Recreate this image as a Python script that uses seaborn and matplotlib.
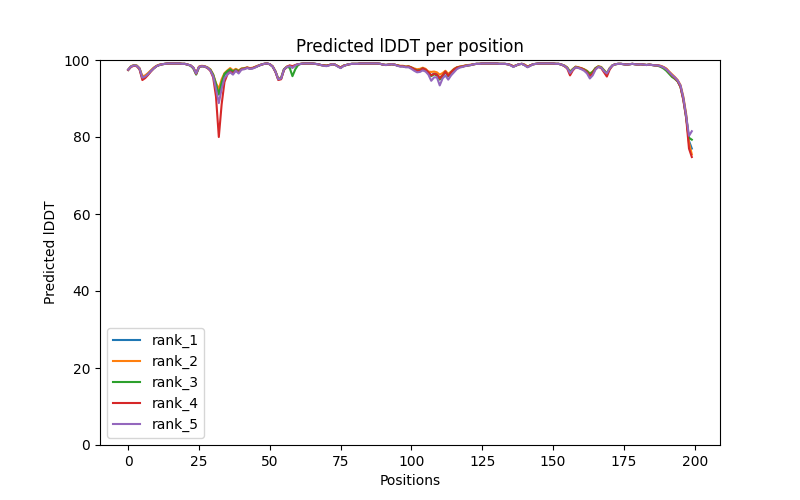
import matplotlib
matplotlib.use("Agg")
import matplotlib.pyplot as plt
import seaborn as sns
import pandas as pd
import numpy as np

positions = list(range(200))

rank_1 = [
    97.5, 98.3, 98.6, 98.5, 97.8, 95.5, 95.8, 96.4, 97.2, 97.9,
    98.4, 98.7, 98.9, 99.0, 99.1, 99.1, 99.1, 99.1, 99.1, 99.0,
    99.0, 98.8, 98.6, 98.0, 96.5, 98.2, 98.4, 98.3, 98.0, 97.4,
    96.0, 93.5, 91.5, 94.0, 96.2, 97.0, 97.5, 96.8, 97.5, 97.0,
    97.7, 97.8, 98.0, 97.8, 97.9, 98.2, 98.5, 98.8, 99.0, 99.1,
    98.9, 98.3, 97.0, 95.0, 95.2, 97.5, 98.2, 98.5, 98.0, 98.6,
    98.9, 99.0, 99.1, 99.1, 99.1, 99.1, 99.0, 98.9, 98.7, 98.6,
    98.5, 98.7, 98.9, 98.8, 98.4, 98.0, 98.5, 98.7, 98.9, 99.0,
    99.0, 99.0, 99.1, 99.1, 99.1, 99.1, 99.1, 99.1, 99.1, 99.0,
    98.8, 98.7, 98.8, 98.9, 98.8, 98.6, 98.4, 98.4, 98.2, 98.3,
    98.0, 97.6, 97.2, 97.3, 97.8, 97.5, 96.8, 96.0, 96.5, 96.3,
    95.3, 96.0, 97.0, 95.8, 96.8, 97.5, 98.0, 98.2, 98.3, 98.5,
    98.6, 98.7, 98.9, 99.0, 99.0, 99.1, 99.1, 99.1, 99.1, 99.1,
    99.1, 99.0, 99.0, 99.0, 98.9, 98.7, 98.3, 98.6, 98.9, 99.0,
    98.7, 98.2, 98.6, 98.9, 99.0, 99.1, 99.1, 99.1, 99.1, 99.1,
    99.1, 99.0, 99.0, 98.8, 98.5, 98.0, 96.8, 97.6, 98.2, 98.0,
    97.8, 97.5, 97.0, 96.2, 96.8, 97.8, 98.3, 98.1, 97.2, 96.3,
    97.8, 98.6, 98.9, 99.0, 99.0, 98.9, 98.8, 98.9, 99.0, 98.9,
    98.8, 98.9, 98.8, 98.7, 98.8, 98.7, 98.6, 98.6, 98.4, 98.1,
    97.6, 96.8, 96.0, 95.4, 94.6, 93.2, 90.0, 85.5, 79.0, 77.0,
]

rank_2 = [
    97.5, 98.4, 98.7, 98.6, 97.9, 95.8, 96.0, 96.6, 97.3, 98.0,
    98.5, 98.8, 98.9, 99.0, 99.1, 99.1, 99.1, 99.1, 99.1, 99.0,
    99.0, 98.8, 98.6, 98.0, 96.6, 98.3, 98.5, 98.4, 98.1, 97.6,
    96.3, 94.0, 92.5, 95.0, 96.6, 97.3, 97.9, 97.3, 97.7, 97.3,
    97.8, 97.9, 98.1, 97.9, 98.0, 98.3, 98.6, 98.8, 99.0, 99.1,
    98.9, 98.4, 97.1, 95.1, 95.4, 97.6, 98.3, 98.5, 98.1, 98.6,
    98.9, 99.0, 99.1, 99.1, 99.1, 99.1, 99.0, 98.9, 98.7, 98.6,
    98.5, 98.7, 98.9, 98.8, 98.4, 98.1, 98.5, 98.7, 98.9, 99.0,
    99.0, 99.0, 99.1, 99.1, 99.1, 99.1, 99.1, 99.1, 99.1, 99.0,
    98.8, 98.7, 98.8, 98.9, 98.8, 98.6, 98.5, 98.5, 98.3, 98.4,
    98.1, 97.8, 97.6, 97.7, 98.0, 97.7, 97.0, 96.9, 97.0, 96.8,
    96.2, 96.6, 97.2, 96.4, 97.0, 97.7, 98.1, 98.3, 98.4, 98.6,
    98.7, 98.8, 98.9, 99.0, 99.0, 99.1, 99.1, 99.1, 99.1, 99.1,
    99.1, 99.0, 99.0, 99.0, 98.9, 98.7, 98.4, 98.6, 98.9, 99.0,
    98.8, 98.3, 98.6, 98.9, 99.0, 99.1, 99.1, 99.1, 99.1, 99.1,
    99.1, 99.0, 99.0, 98.8, 98.6, 98.1, 97.0, 97.7, 98.3, 98.1,
    97.9, 97.6, 97.2, 96.5, 97.0, 97.9, 98.4, 98.2, 97.4, 96.6,
    97.9, 98.6, 98.9, 99.0, 99.0, 98.9, 98.8, 98.9, 99.0, 98.9,
    98.8, 98.9, 98.8, 98.7, 98.8, 98.7, 98.6, 98.6, 98.5, 98.2,
    97.8, 97.0, 96.3, 95.6, 94.8, 93.5, 90.5, 86.0, 78.5, 75.5,
]

rank_3 = [
    97.4, 98.3, 98.6, 98.5, 97.7, 95.3, 95.6, 96.3, 97.1, 97.8,
    98.4, 98.7, 98.9, 99.0, 99.1, 99.1, 99.1, 99.1, 99.1, 99.0,
    99.0, 98.8, 98.5, 97.8, 96.2, 98.1, 98.4, 98.3, 98.0, 97.5,
    96.2, 93.8, 91.0, 94.2, 96.4, 97.1, 97.6, 97.0, 97.5, 97.1,
    97.7, 97.8, 98.0, 97.8, 97.9, 98.2, 98.5, 98.8, 99.0, 99.1,
    98.9, 98.3, 97.0, 95.0, 95.3, 97.6, 98.2, 98.0, 95.8, 97.6,
    98.7, 99.0, 99.1, 99.1, 99.1, 99.1, 99.0, 98.9, 98.7, 98.6,
    98.5, 98.7, 98.9, 98.8, 98.4, 98.0, 98.5, 98.7, 98.9, 99.0,
    99.0, 99.0, 99.1, 99.1, 99.1, 99.1, 99.1, 99.1, 99.1, 99.0,
    98.8, 98.7, 98.8, 98.9, 98.8, 98.6, 98.4, 98.4, 98.2, 98.3,
    98.0, 97.6, 97.3, 97.4, 97.8, 97.4, 96.7, 95.8, 96.3, 96.0,
    94.9, 95.8, 96.9, 95.8, 96.8, 97.5, 98.0, 98.2, 98.3, 98.5,
    98.6, 98.7, 98.9, 99.0, 99.0, 99.1, 99.1, 99.1, 99.1, 99.1,
    99.1, 99.0, 99.0, 99.0, 98.9, 98.7, 98.3, 98.6, 98.9, 99.0,
    98.7, 98.2, 98.6, 98.9, 99.0, 99.1, 99.1, 99.1, 99.1, 99.1,
    99.1, 99.0, 99.0, 98.8, 98.5, 98.0, 96.9, 97.6, 98.2, 98.0,
    97.8, 97.5, 97.1, 96.4, 96.9, 97.9, 98.3, 98.1, 97.3, 96.5,
    97.8, 98.6, 98.9, 99.0, 99.0, 98.9, 98.8, 98.9, 99.0, 98.9,
    98.8, 98.9, 98.8, 98.7, 98.8, 98.7, 98.6, 98.5, 98.2, 97.8,
    97.2, 96.4, 95.6, 95.1, 94.4, 93.0, 89.8, 85.0, 79.8, 79.3,
]

rank_4 = [
    97.4, 98.2, 98.5, 98.4, 97.6, 94.8, 95.3, 96.1, 97.0, 97.8,
    98.4, 98.7, 98.9, 99.0, 99.1, 99.1, 99.1, 99.1, 99.1, 99.0,
    99.0, 98.8, 98.6, 98.0, 96.4, 98.2, 98.4, 98.3, 97.9, 97.2,
    95.5, 90.5, 80.0, 88.5, 94.3, 96.2, 97.0, 96.5, 97.3, 96.8,
    97.6, 97.7, 98.0, 97.8, 97.9, 98.2, 98.5, 98.8, 99.0, 99.1,
    98.9, 98.3, 96.9, 94.8, 95.0, 97.4, 98.2, 98.6, 98.4, 98.7,
    98.9, 99.0, 99.1, 99.1, 99.1, 99.1, 99.0, 98.9, 98.7, 98.6,
    98.5, 98.7, 98.9, 98.8, 98.4, 98.0, 98.5, 98.7, 98.9, 99.0,
    99.0, 99.0, 99.1, 99.1, 99.1, 99.1, 99.1, 99.1, 99.1, 99.0,
    98.8, 98.7, 98.8, 98.9, 98.8, 98.6, 98.4, 98.4, 98.2, 98.3,
    98.0, 97.6, 97.2, 97.3, 97.8, 97.5, 96.8, 96.0, 96.4, 96.2,
    95.2, 96.0, 97.0, 95.9, 96.8, 97.5, 98.0, 98.2, 98.3, 98.5,
    98.6, 98.7, 98.9, 99.0, 99.0, 99.1, 99.1, 99.1, 99.1, 99.1,
    99.1, 99.0, 99.0, 99.0, 98.9, 98.7, 98.3, 98.6, 98.9, 99.0,
    98.7, 98.2, 98.6, 98.9, 99.0, 99.1, 99.1, 99.1, 99.1, 99.1,
    99.1, 99.0, 99.0, 98.8, 98.4, 97.8, 96.0, 97.3, 98.1, 98.0,
    97.8, 97.4, 96.8, 95.8, 96.5, 97.7, 98.2, 97.9, 96.8, 95.7,
    97.5, 98.6, 98.9, 99.0, 99.0, 98.9, 98.8, 98.9, 99.0, 98.9,
    98.8, 98.9, 98.8, 98.7, 98.8, 98.7, 98.6, 98.6, 98.4, 98.1,
    97.6, 96.8, 96.0, 95.3, 94.5, 93.0, 89.6, 85.0, 77.0, 74.8,
]

rank_5 = [
    97.5, 98.3, 98.6, 98.5, 97.8, 95.4, 95.7, 96.3, 97.1, 97.8,
    98.4, 98.7, 98.9, 99.0, 99.1, 99.1, 99.1, 99.1, 99.1, 99.0,
    99.0, 98.8, 98.6, 98.0, 96.5, 98.2, 98.4, 98.3, 98.0, 97.3,
    95.8, 92.5, 88.8, 92.5, 95.3, 96.2, 96.8, 96.2, 97.2, 96.5,
    97.5, 97.6, 97.9, 97.7, 97.8, 98.1, 98.5, 98.8, 99.0, 99.1,
    98.9, 98.3, 97.0, 95.0, 95.2, 97.5, 98.2, 98.4, 98.0, 98.6,
    98.9, 99.0, 99.1, 99.1, 99.1, 99.1, 99.0, 98.9, 98.7, 98.5,
    98.4, 98.6, 98.9, 98.8, 98.3, 97.9, 98.4, 98.7, 98.9, 99.0,
    99.0, 99.0, 99.1, 99.1, 99.1, 99.1, 99.1, 99.1, 99.1, 99.0,
    98.8, 98.7, 98.8, 98.9, 98.8, 98.5, 98.3, 98.3, 98.1, 98.1,
    97.7, 97.2, 96.8, 96.9, 97.3, 97.0, 96.2, 94.6, 95.5, 95.5,
    93.4, 95.2, 96.0, 94.9, 96.0, 96.8, 97.6, 98.0, 98.2, 98.4,
    98.6, 98.7, 98.9, 99.0, 99.0, 99.1, 99.1, 99.1, 99.1, 99.1,
    99.1, 99.0, 99.0, 99.0, 98.9, 98.6, 98.2, 98.6, 98.9, 99.0,
    98.6, 98.1, 98.5, 98.9, 99.0, 99.1, 99.1, 99.1, 99.1, 99.1,
    99.1, 99.0, 99.0, 98.8, 98.5, 97.9, 96.6, 97.5, 98.1, 97.9,
    97.6, 97.2, 96.5, 95.2, 96.0, 97.5, 98.2, 98.0, 97.1, 96.5,
    97.8, 98.6, 98.9, 99.0, 99.0, 98.9, 98.8, 98.9, 99.0, 98.9,
    98.8, 98.9, 98.8, 98.7, 98.8, 98.7, 98.6, 98.6, 98.4, 98.1,
    97.6, 96.9, 96.1, 95.5, 94.7, 93.4, 90.2, 85.5, 80.3, 81.5,
]

rank_names = ["rank_1", "rank_2", "rank_3", "rank_4", "rank_5"]
series = [rank_1, rank_2, rank_3, rank_4, rank_5]

frames = []
for name, vals in zip(rank_names, series):
    frames.append(pd.DataFrame({"Positions": positions, "Predicted lDDT": vals, "rank": name}))
df = pd.concat(frames, ignore_index=True)

plt.rcParams['font.family'] = ['DejaVu Sans']
fig, ax = plt.subplots(figsize=(8, 5), dpi=100)
sns.lineplot(data=df, x="Positions", y="Predicted lDDT", hue="rank",
             palette="tab10", linewidth=1.5, ax=ax, estimator=None)
ax.set_ylim(0, 100)
ax.set_title("Predicted lDDT per position")
ax.set_xlabel("Positions")
ax.set_ylabel("Predicted lDDT")
handles, labels = ax.get_legend_handles_labels()
ax.legend(handles, labels, loc="lower left")
fig.savefig("out.png", dpi=100)
